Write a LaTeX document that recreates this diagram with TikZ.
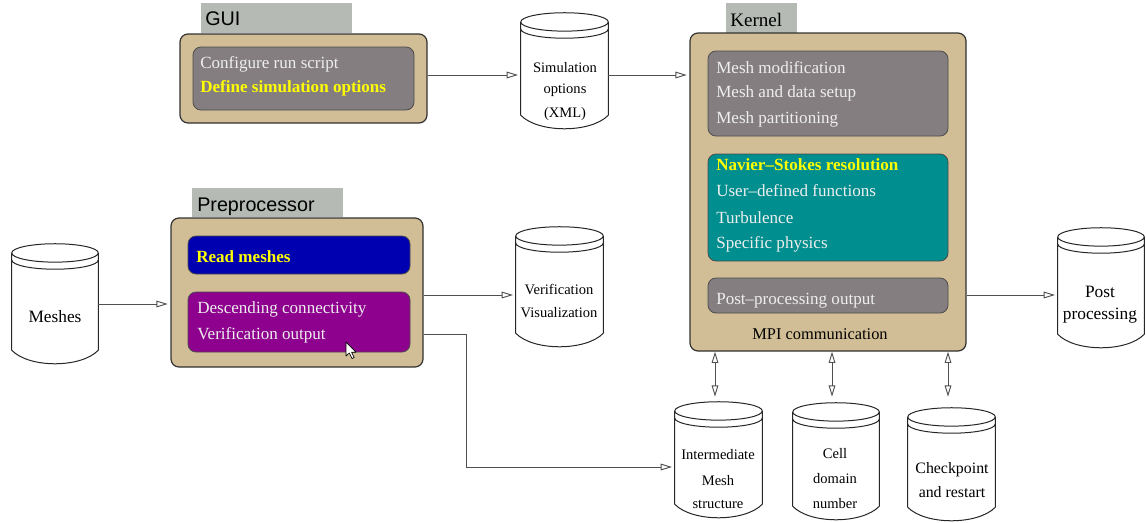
\documentclass[tikz,border=0pt]{standalone}
\usepackage{fontspec}
\setmainfont{Liberation Serif}
\newfontfamily\labelsans{Liberation Sans}
\usetikzlibrary{arrows.meta,calc}
\definecolor{tanbox}{RGB}{210,190,150}
\definecolor{labelgray}{RGB}{181,186,181}
\definecolor{innergray}{RGB}{132,126,129}
\definecolor{blueb}{RGB}{0,0,176}
\definecolor{purpleb}{RGB}{142,0,142}
\definecolor{tealb}{RGB}{0,142,142}
\definecolor{lighttext}{RGB}{238,238,238}
\definecolor{yellowtext}{RGB}{255,255,0}
\definecolor{boxborder}{RGB}{50,50,50}
\definecolor{linegray}{RGB}{80,80,80}
\newcommand\drawcyl[1]{%
  \draw[cylline] let \p1=(#1.north west), \p2=(#1.south east) in
    ({(\x1+\x2)/2},{\y1-6.9pt}) ellipse [x radius={(\x2-\x1)/2}, y radius=6.9pt]
    (\x1,{\y1-6.9pt}) -- (\x1,{\y2+10.5pt})
    (\x2,{\y1-6.9pt}) -- (\x2,{\y2+10.5pt})
    (\x1,{\y1-12.2pt}) arc [start angle=180, end angle=360, x radius={(\x2-\x1)/2}, y radius=6.9pt]
    (\x1,{\y2+10.5pt}) .. controls ({\x1+0.2*(\x2-\x1)},{\y2-3pt}) and ({\x2-0.2*(\x2-\x1)},{\y2-3pt}) .. (\x2,{\y2+10.5pt});
}
\begin{document}
\begin{tikzpicture}[x=0.75pt,y=-0.75pt,
  wh/.style 2 args={minimum width={#1*0.75pt}, minimum height={#2*0.75pt}},
  mainbox/.style={draw=boxborder, line width=0.9pt, fill=tanbox, rounded corners=6pt, inner sep=0pt},
  innerbox/.style={draw=black!70, line width=0.6pt, rounded corners=6pt, inner sep=0pt},
  lblbox/.style={fill=labelgray, inner sep=0pt},
  cylnode/.style={inner sep=0pt, draw=none},
  cylline/.style={draw=black!85, line width=0.75pt},
  txt/.style={inner sep=0pt, anchor=base west, font=\fontsize{12.8}{15}\selectfont},
  wtxt/.style={txt, text=lighttext},
  ytxt/.style={txt, text=yellowtext, font=\fontsize{12.8}{15}\selectfont\bfseries},
  ctxt/.style={inner sep=0pt, anchor=base, font=\fontsize{10.9}{13}\selectfont},
  btxt/.style={inner sep=0pt, anchor=base, font=\fontsize{13}{15}\selectfont},
  lbltxt/.style={inner sep=0pt, anchor=base west, font=\labelsans\fontsize{14.8}{17}\selectfont},
  tip/.tip={Triangle[open,length=8.5pt,width=5pt]},
  arr/.style={draw=linegray, line width=0.7pt, -tip, shorten >=2pt},
  darr/.style={draw=linegray, line width=0.7pt, tip-tip}
]
\useasboundingbox (0,0) rectangle (1146,522);

% ---------- GUI ----------
\node[lblbox, wh={151}{30}] (guilbl) at (276.5,18) {};
\node[lbltxt] (guilbltxt) at (205,25) {GUI};
\node[mainbox, wh={247}{89}] (gui) at (303.5,78.5) {};
\node[innerbox, fill=innergray, wh={221}{63}] (guiin) at (303.5,78.5) {};
\node[wtxt] (g1) at (200,68) {Configure run script};
\node[ytxt] (g2) at (200,92) {Define simulation options};

% ---------- Simulation options ----------
\node[cylnode, wh={87}{116}] (sim) at (564.5,71) {};
\drawcyl{sim}
\node[ctxt] (s1) at (565,72) {Simulation};
\node[ctxt] (s2) at (565,93) {options};
\node[ctxt] (s3) at (565,117) {(XML)};

% ---------- Kernel ----------
\node[lblbox, wh={71}{30}] (kerlbl) at (761.5,18) {};
\node[inner sep=0pt, anchor=base west, font=\fontsize{14.3}{17}\selectfont] (kerlbltxt) at (730,26) {Kernel};
\node[mainbox, wh={276}{318}] (kernel) at (828,192) {};
\node[innerbox, fill=innergray, wh={240}{85}] (k1) at (828,93.5) {};
\node[innerbox, fill=tealb, wh={240}{107}] (k2) at (828,207.5) {};
\node[innerbox, fill=innergray, wh={240}{35}] (k3) at (828,295.5) {};
\node[wtxt] (kt1) at (716,73) {Mesh modification};
\node[wtxt] (kt2) at (716,97) {Mesh and data setup};
\node[wtxt] (kt3) at (716,123) {Mesh partitioning};
\node[ytxt] (kt4) at (716,170) {Navier\textendash Stokes resolution};
\node[wtxt] (kt5) at (716,196) {User\textendash defined functions};
\node[wtxt] (kt6) at (716,223) {Turbulence};
\node[wtxt] (kt7) at (716,248) {Specific physics};
\node[wtxt] (kt8) at (716,304) {Post\textendash processing output};
\node[inner sep=0pt, anchor=base, font=\fontsize{12.3}{15}\selectfont] (mpi) at (820,339) {MPI communication};

% ---------- Post processing ----------
\node[cylnode, wh={86}{120}] (post) at (1101,288) {};
\drawcyl{post}
\node[btxt] (p1) at (1100,297) {Post};
\node[btxt] (p2) at (1100,319) {processing};

% ---------- Preprocessor ----------
\node[lblbox, wh={151}{29}] (prelbl) at (267.5,202.5) {};
\node[lbltxt] (prelbltxt) at (197,211) {Preprocessor};
\node[mainbox, wh={252}{149}] (pre) at (297,292.5) {};
\node[innerbox, fill=blueb, wh={222}{38}] (read) at (299,255) {};
\node[innerbox, fill=purpleb, wh={222}{60}] (desc) at (299,322) {};
\node[ytxt] (r1) at (196,262) {Read meshes};
\node[wtxt] (d1) at (197,313) {Descending connectivity};
\node[wtxt] (d2) at (197,339) {Verification output};
% mouse cursor
\draw[fill=white, draw=black, line width=0.5pt, line join=round]
  (346,342) -- (346,356) -- (349.3,353) -- (352,358.5) -- (354.2,357.5) -- (351.6,352.2) -- (356,352.2) -- cycle;

% ---------- Meshes ----------
\node[cylnode, wh={86}{120}] (meshes) at (55,304) {};
\drawcyl{meshes}
\node[btxt] (m1) at (55,322) {Meshes};

% ---------- Verification ----------
\node[cylnode, wh={87}{120}] (verif) at (559.5,287) {};
\drawcyl{verif}
\node[ctxt] (v1) at (559,294) {Verification};
\node[ctxt] (v2) at (559,317) {Visualization};

% ---------- bottom cylinders ----------
\node[cylnode, wh={87}{116}] (inter) at (718.5,460) {};
\drawcyl{inter}
\node[ctxt] (i1) at (718,459) {Intermediate};
\node[ctxt] (i2) at (718,485) {Mesh};
\node[ctxt] (i3) at (718,508) {structure};

\node[cylnode, wh={86}{117}] (cell) at (836,461.5) {};
\drawcyl{cell}
\node[ctxt] (c1) at (835,458) {Cell};
\node[ctxt] (c2) at (835,483) {domain};
\node[ctxt] (c3) at (835,508) {number};

\node[cylnode, wh={87}{113}] (chk) at (951.5,464.5) {};
\drawcyl{chk}
\node[inner sep=0pt, anchor=base, font=\fontsize{11.9}{14}\selectfont] (ch1) at (952,473) {Checkpoint};
\node[inner sep=0pt, anchor=base, font=\fontsize{11.9}{14}\selectfont] (ch2) at (952,497) {and restart};

% ---------- connectors ----------
\draw[arr] (gui.east |- 0,75) -- (sim.west |- 0,75);
\draw[arr] (sim.east |- 0,75) -- (kernel.west |- 0,75);
\draw[arr] (meshes.east |- 0,304) -- (pre.west |- 0,304);
\draw[arr] (pre.east |- 0,295) -- (verif.west |- 0,295);
\draw[arr] (kernel.east |- 0,295) -- (post.west |- 0,295);
\coordinate (elbow) at (466,467);
\draw[arr] (pre.east |- 0,334) -| (elbow) -- (inter.west |- elbow);
\draw[darr, shorten >=3.75pt] (kernel.south -| 715,0) -- (inter.north -| 715,0);
\draw[darr, shorten >=4.5pt] (kernel.south -| 832,0) -- (cell.north -| 832,0);
\draw[darr, shorten >=8.25pt] (kernel.south -| 948,0) -- (chk.north -| 948,0);
\end{tikzpicture}
\end{document}
